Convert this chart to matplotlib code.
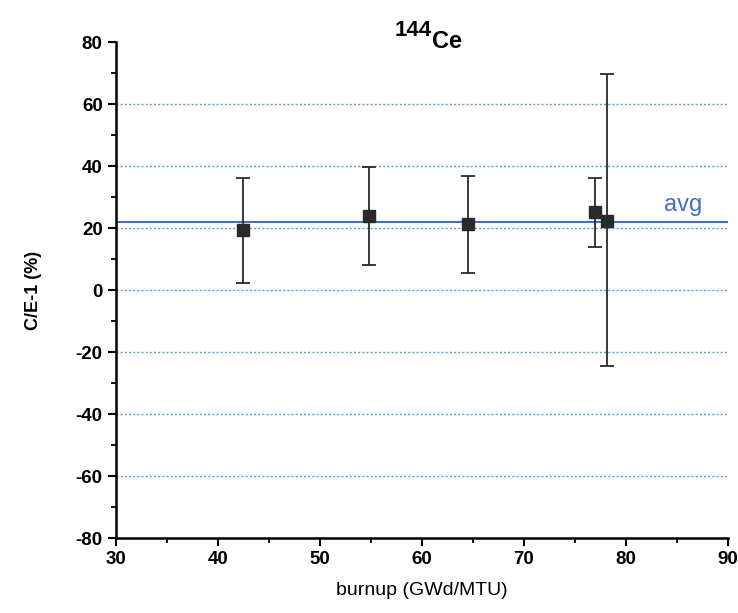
import numpy as np
import matplotlib.pyplot as plt

plt.rcParams['font.family'] = ['Liberation Sans', 'DejaVu Sans']
plt.rcParams['axes.unicode_minus'] = False

# data
burnup = np.array([42.5, 54.8, 64.5, 77.0, 78.2])
ce_ratio = np.array([19.4, 23.9, 21.3, 25.2, 22.3])
err_hi = np.array([36.1, 39.7, 36.8, 36.1, 69.7])
err_lo = np.array([2.3, 8.1, 5.5, 13.9, -24.5])
avg = 22.0
grid_y = [-60, -40, -20, 0, 20, 40, 60]

fig = plt.figure(figsize=(7.38, 6.13), dpi=100)
ax = fig.add_axes([0.157, 0.122, 0.829, 0.809])

for g in grid_y:
    ax.axhline(g, color='#5b9fd6', lw=1.0, ls=(0, (1.5, 1.5)), zorder=1)

ax.axhline(avg, color='#4470c4', lw=1.5, zorder=2)
ax.text(83.8, avg + 3.5, 'avg', color='#4470c4', fontsize=17)

ax.errorbar(burnup, ce_ratio, yerr=[ce_ratio - err_lo, err_hi - ce_ratio],
            fmt='s', color='#2a2a2a', ms=8, capsize=5, elinewidth=1.3,
            capthick=1.3, zorder=3)

ax.set_xlim(30, 90)
ax.set_ylim(-80, 80)
ax.set_xticks(np.arange(30, 91, 10))
ax.set_yticks(np.arange(-80, 81, 20))
ax.set_xticks(np.arange(35, 90, 10), minor=True)
ax.set_yticks(np.arange(-70, 80, 20), minor=True)
ax.tick_params(which='major', direction='out', length=6, width=1.5, labelsize=13.5)
ax.tick_params(which='minor', direction='out', length=3.5, width=1.3)
for lab in ax.get_xticklabels() + ax.get_yticklabels():
    lab.set_fontweight('bold')

ax.spines['top'].set_visible(False)
ax.spines['right'].set_visible(False)
ax.spines['left'].set_linewidth(1.8)
ax.spines['bottom'].set_linewidth(1.8)

ax.set_xlabel('burnup (GWd/MTU)', fontsize=14, labelpad=10)
ax.set_ylabel('C/E-1 (%)', fontsize=13, fontweight='bold', labelpad=24)

# title: superscript mass number then element symbol
fig.text(0.585, 0.942, '144', fontsize=16, fontweight='bold', ha='right', va='baseline')
fig.text(0.585, 0.922, 'Ce', fontsize=17, fontweight='bold', ha='left', va='baseline')

plt.savefig('out.png', dpi=100)
